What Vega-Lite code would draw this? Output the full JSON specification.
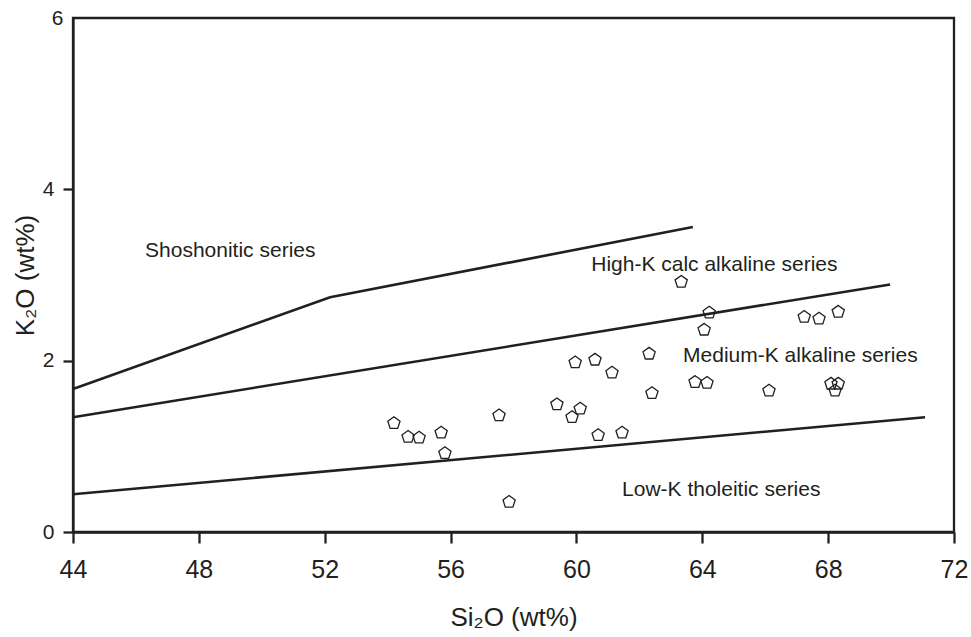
{
  "$schema": "https://vega.github.io/schema/vega-lite/v6.json",
  "width": 881,
  "height": 514,
  "autosize": "none",
  "padding": {"left": 73, "top": 18, "right": 17, "bottom": 105},
  "background": "white",
  "config": {
    "font": "Liberation Sans",
    "view": {"stroke": "#231f20", "strokeWidth": 2.3},
    "axis": {
      "grid": false,
      "domainColor": "#231f20",
      "domainWidth": 2.3,
      "tickColor": "#231f20",
      "tickWidth": 2.3,
      "labelColor": "#231f20",
      "titleColor": "#231f20",
      "labelFont": "Liberation Sans",
      "titleFont": "Liberation Sans",
      "titleFontWeight": "normal"
    }
  },
  "datasets": {
    "lines": [
      {"line": "A", "ord": 1, "si": 44.0, "k": 1.67},
      {"line": "A", "ord": 2, "si": 52.17, "k": 2.74},
      {"line": "A", "ord": 3, "si": 63.7, "k": 3.56},
      {"line": "B", "ord": 1, "si": 44.0, "k": 1.34},
      {"line": "B", "ord": 2, "si": 69.97, "k": 2.89},
      {"line": "C", "ord": 1, "si": 44.0, "k": 0.44},
      {"line": "C", "ord": 2, "si": 71.08, "k": 1.34}
    ],
    "samples": [
      {"si": 54.20, "k": 1.27},
      {"si": 54.65, "k": 1.11},
      {"si": 55.00, "k": 1.10},
      {"si": 55.70, "k": 1.16},
      {"si": 55.82, "k": 0.92},
      {"si": 57.54, "k": 1.36},
      {"si": 57.86, "k": 0.35},
      {"si": 59.38, "k": 1.49},
      {"si": 59.86, "k": 1.34},
      {"si": 60.12, "k": 1.44},
      {"si": 59.96, "k": 1.98},
      {"si": 60.59, "k": 2.01},
      {"si": 61.13, "k": 1.86},
      {"si": 60.69, "k": 1.13},
      {"si": 61.45, "k": 1.16},
      {"si": 62.31, "k": 2.08},
      {"si": 62.40, "k": 1.62},
      {"si": 63.33, "k": 2.92},
      {"si": 64.22, "k": 2.56},
      {"si": 64.06, "k": 2.36},
      {"si": 63.77, "k": 1.75},
      {"si": 64.15, "k": 1.74},
      {"si": 66.12, "k": 1.65},
      {"si": 67.24, "k": 2.51},
      {"si": 67.71, "k": 2.49},
      {"si": 68.32, "k": 2.57},
      {"si": 68.09, "k": 1.73},
      {"si": 68.32, "k": 1.73},
      {"si": 68.22, "k": 1.65}
    ],
    "labels": [
      {"si": 46.29, "k": 3.21, "text": "Shoshonitic series"},
      {"si": 60.47, "k": 3.05, "text": "High-K calc alkaline series"},
      {"si": 63.39, "k": 1.98, "text": "Medium-K alkaline series"},
      {"si": 61.45, "k": 0.42, "text": "Low-K tholeitic series"}
    ]
  },
  "layer": [
    {
      "data": {"name": "lines"},
      "mark": {"type": "line", "color": "#231f20", "strokeWidth": 2.6},
      "encoding": {
        "x": {
          "field": "si", "type": "quantitative",
          "scale": {"domain": [44, 72], "nice": false, "zero": false},
          "axis": {
            "values": [44, 48, 52, 56, 60, 64, 68, 72],
            "format": "d",
            "title": "Si₂O (wt%)",
            "titleFontSize": 26,
            "titlePadding": 22,
            "labelFontSize": 25,
            "labelPadding": 14,
            "tickSize": 11,
            "labelFlush": false,
            "labelOverlap": false
          }
        },
        "y": {
          "field": "k", "type": "quantitative",
          "scale": {"domain": [0, 6], "nice": false},
          "axis": {
            "values": [0, 2, 4, 6],
            "format": "d",
            "title": "K₂O (wt%)",
            "titleFontSize": 26,
            "titlePadding": 4,
            "labelFontSize": 21,
            "tickSize": 10,
            "tickOpacity": {"condition": {"test": "datum.value == 6", "value": 0}, "value": 1},
            "labelPadding": {"condition": {"test": "datum.value == 6", "value": 0}, "value": 9},
            "labelFlush": false,
            "labelOverlap": false
          }
        },
        "detail": {"field": "line", "type": "nominal"},
        "order": {"field": "ord", "type": "quantitative"}
      }
    },
    {
      "data": {"name": "samples"},
      "mark": {
        "type": "point",
        "shape": "M0,-1 L0.951,-0.309 L0.588,0.809 L-0.588,0.809 L-0.951,-0.309 Z",
        "size": 165,
        "filled": false,
        "stroke": "#231f20",
        "strokeWidth": 1.3,
        "opacity": 1
      },
      "encoding": {
        "x": {"field": "si", "type": "quantitative"},
        "y": {"field": "k", "type": "quantitative"}
      }
    },
    {
      "data": {"name": "labels"},
      "mark": {
        "type": "text",
        "align": "left",
        "baseline": "alphabetic",
        "fontSize": 21,
        "font": "Liberation Sans",
        "color": "#231f20"
      },
      "encoding": {
        "x": {"field": "si", "type": "quantitative"},
        "y": {"field": "k", "type": "quantitative"},
        "text": {"field": "text", "type": "nominal"}
      }
    }
  ]
}
